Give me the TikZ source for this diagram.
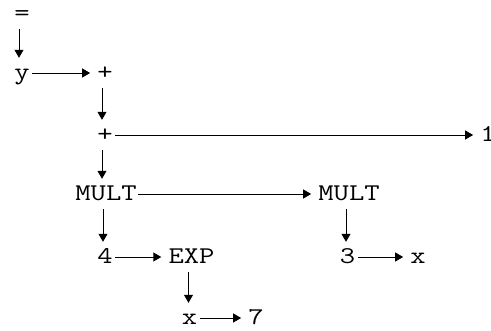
\documentclass[tikz,border=0pt]{standalone}
\usepackage{fontspec}
\setmonofont{Latin Modern Mono}[FakeStretch=1.24]
\usetikzlibrary{arrows.meta}

\begin{document}
\begin{tikzpicture}[x=1pt, y=-1pt,
    tok/.style={anchor=base, inner xsep=2.5pt, inner ysep=2pt, text height=20pt, text depth=6pt,
      font=\ttfamily\fontsize{24}{24}\selectfont},
    link/.style={-{Triangle[length=8pt, width=9pt]}, line width=0.9pt, shorten >=4.5pt}]
    \useasboundingbox (0,0) rectangle (491,331);
    \begin{scope}
      % tokens, by baseline
      \node[tok] (eq) at (22,21) {=};
      \node[tok] (y) at (22,80) {y};
      \node[tok] (plusA) at (105,80) {+};
      \node[tok] (plusB) at (105,142) {+};
      \node[tok] (one) at (488,142) {1};
      \node[tok] (multA) at (106,201) {MULT};
      \node[tok] (multB) at (349,201) {MULT};
      \node[tok] (four) at (105,264) {4};
      \node[tok] (exp) at (191.5,264) {EXP};
      \node[tok] (three) at (347.5,264) {3};
      \node[tok] (xA) at (418,264) {x};
      \node[tok] (xB) at (189.5,325) {x};
      \node[tok] (seven) at (256,325) {7};
      % horizontal links
      \draw[link] (y.east) -- (plusA.west);
      \draw[link] (plusB.east) -- (one.west);
      \draw[link, shorten <=-1.5pt] (multA.east) -- (multB.west);
      \draw[link] (four.east) -- (exp.west);
      \draw[link] (three.east) -- (xA.west);
      \draw[link] (xB.east) -- (seven.west);
      % vertical links
      \foreach \a/\b in {eq/y, plusA/plusB, plusB/multA, multA/four, multB/three, exp/xB} {
        \draw[link, shorten >=0pt] ([xshift=-3pt]\a.south) -- ([xshift=-3pt]\a.south |- \b.north);
      }
    \end{scope}
  \end{tikzpicture}
\end{document}
